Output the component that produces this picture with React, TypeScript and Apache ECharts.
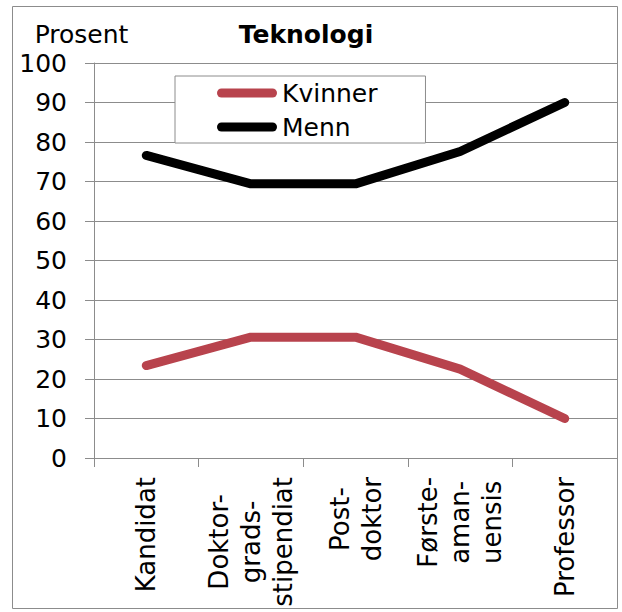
import React, { useEffect, useRef } from "react";
import * as echarts from "echarts";

const categories = [
  "Kandidat",
  "Doktor-\ngrads-\nstipendiat",
  "Post-\ndoktor",
  "Første-\naman-\nuensis",
  "Professor",
];
const kvinner = [23.4, 30.6, 30.6, 22.5, 10.0];
const menn = [76.6, 69.4, 69.4, 77.6, 90.0];
const yTicks = { min: 0, max: 100, interval: 10 };

const FONT = "'DejaVu Sans', Verdana, sans-serif";
const GRAY = "#8c8c8c";
const RED = "#B8434D";
const CAPSULE = "path://M4.5,0 L55.5,0 A4.5,4.5 0 0 1 55.5,9 L4.5,9 A4.5,4.5 0 0 1 4.5,0 Z";

export default function App() {
  const ref = useRef<HTMLDivElement>(null);
  useEffect(() => {
    if (!ref.current) return;
    const chart = echarts.init(ref.current, undefined, { renderer: "svg" });
    chart.setOption({
      animation: false,
      backgroundColor: "#ffffff",
      title: {
        text: "Teknologi",
        left: 306,
        top: 22,
        padding: 0,
        textAlign: "center",
        textStyle: { fontFamily: FONT, fontSize: 25, fontWeight: "bold", color: "#000" },
      },
      legend: {
        orient: "vertical",
        left: 175,
        top: 76,
        padding: [4, 48, 3, 42],
        itemWidth: 60,
        itemHeight: 9,
        itemGap: 8,
        symbolKeepAspect: false,
        backgroundColor: "#ffffff",
        borderColor: GRAY,
        borderWidth: 1,
        textStyle: { fontFamily: FONT, fontSize: 25, color: "#000", lineHeight: 26 },
        data: [
          { name: "Kvinner", icon: CAPSULE, itemStyle: { color: RED } },
          { name: "Menn", icon: CAPSULE, itemStyle: { color: "#000000" } },
        ],
      },
      grid: { left: 94, right: 5, top: 63, bottom: 154, containLabel: false },
      xAxis: {
        type: "category",
        data: categories,
        boundaryGap: true,
        axisLine: { show: true, lineStyle: { color: GRAY, width: 1 } },
        axisTick: { show: true, length: 9, lineStyle: { color: GRAY } },
        axisLabel: {
          rotate: 90,
          margin: 19,
          interval: 0,
          color: "#000",
          fontFamily: FONT,
          fontSize: 26,
          lineHeight: 32,
          formatter: (v: string) =>
            v
              .split("\n")
              .map((l) => `{c|${l}}`)
              .join("\n"),
          rich: {
            c: { align: "center", fontFamily: FONT, fontSize: 26, lineHeight: 32, color: "#000" },
          },
        },
        splitLine: { show: false },
      },
      yAxis: {
        type: "value",
        min: yTicks.min,
        max: yTicks.max,
        interval: yTicks.interval,
        name: "Prosent",
        nameLocation: "end",
        nameGap: 29,
        nameTextStyle: {
          fontFamily: FONT,
          fontSize: 25,
          color: "#000",
          align: "center",
          verticalAlign: "middle",
          padding: [0, 25, 0, 0],
        },
        axisLine: { show: true, lineStyle: { color: GRAY, width: 1 } },
        axisTick: { show: true, length: 9, lineStyle: { color: GRAY } },
        axisLabel: { margin: 27, color: "#000", fontFamily: FONT, fontSize: 25 },
        splitLine: { show: true, lineStyle: { color: GRAY, width: 1 } },
      },
      graphic: [
        {
          type: "rect",
          shape: { x: 12.5, y: 6.5, width: 605, height: 602 },
          style: { fill: "none", stroke: GRAY, lineWidth: 1 },
          z: 100,
        },
      ],
      series: [
        {
          name: "Kvinner",
          type: "line",
          data: kvinner,
          symbol: "none",
          smooth: false,
          lineStyle: { color: RED, width: 9, cap: "round", join: "round" },
          itemStyle: { color: RED },
        },
        {
          name: "Menn",
          type: "line",
          data: menn,
          symbol: "none",
          smooth: false,
          lineStyle: { color: "#000000", width: 9, cap: "round", join: "round" },
          itemStyle: { color: "#000000" },
        },
      ],
    });
    return () => chart.dispose();
  }, []);
  return <div ref={ref} style={{ width: 622, height: 612, position: "absolute", left: 0, top: 0 }} />;
}
